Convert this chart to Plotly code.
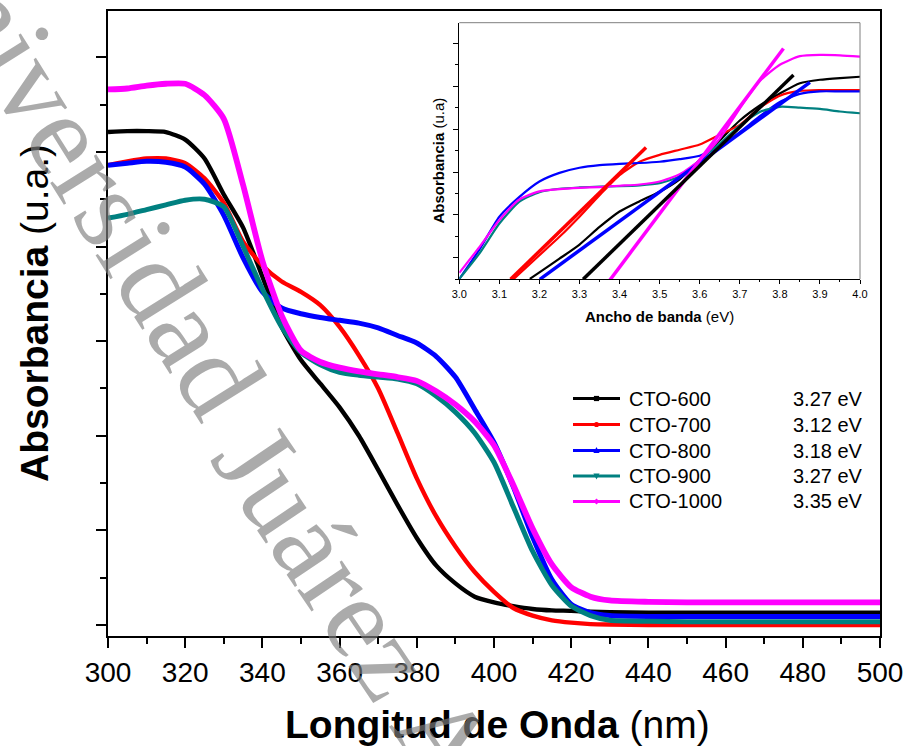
import plotly.graph_objects as go

# ---------------- data ----------------
wavelength = [300, 305, 310, 315, 320, 325, 330, 335, 340, 345, 350, 355, 360, 365, 370,
              375, 380, 385, 390, 395, 400, 405, 410, 415, 420, 425, 430, 440, 450, 460,
              470, 480, 490, 500]
cto600 = [5.21, 5.22, 5.22, 5.21, 5.13, 4.93, 4.55, 4.20, 3.68, 3.15, 2.80, 2.55, 2.30, 2.00,
          1.64, 1.27, 0.92, 0.63, 0.44, 0.30, 0.24, 0.20, 0.17, 0.155, 0.15, 0.14, 0.135,
          0.13, 0.13, 0.13, 0.13, 0.13, 0.13, 0.13]
cto700 = [4.86, 4.90, 4.93, 4.93, 4.88, 4.72, 4.46, 4.05, 3.80, 3.63, 3.52, 3.38, 3.15, 2.85,
          2.50, 2.03, 1.55, 1.15, 0.83, 0.56, 0.35, 0.18, 0.10, 0.05, 0.025, 0.01, 0.005,
          0.0, 0.0, 0.0, 0.0, 0.0, 0.0, 0.0]
cto800 = [4.86, 4.88, 4.90, 4.89, 4.84, 4.66, 4.33, 3.88, 3.52, 3.35, 3.29, 3.25, 3.22, 3.19,
          3.14, 3.06, 2.98, 2.84, 2.62, 2.28, 1.93, 1.46, 0.93, 0.48, 0.22, 0.13, 0.10,
          0.09, 0.09, 0.09, 0.09, 0.09, 0.09, 0.09]
cto900 = [4.30, 4.34, 4.39, 4.44, 4.49, 4.50, 4.42, 4.00, 3.55, 3.15, 2.88, 2.75, 2.67, 2.64,
          2.62, 2.60, 2.55, 2.42, 2.25, 2.03, 1.72, 1.25, 0.78, 0.42, 0.20, 0.10, 0.05,
          0.04, 0.035, 0.035, 0.035, 0.035, 0.035, 0.035]
cto1000 = [5.66, 5.67, 5.70, 5.72, 5.72, 5.60, 5.35, 4.65, 3.85, 3.27, 2.90, 2.78, 2.72, 2.68,
           2.65, 2.62, 2.58, 2.47, 2.33, 2.15, 1.90, 1.48, 1.02, 0.64, 0.40, 0.30, 0.26,
           0.245, 0.24, 0.24, 0.24, 0.24, 0.24, 0.24]

# inset (Tauc plot) curves
ev_full = [3.00, 3.05, 3.10, 3.15, 3.20, 3.25, 3.30, 3.35, 3.40, 3.45, 3.50, 3.55, 3.60,
           3.65, 3.70, 3.75, 3.80, 3.85, 3.90, 3.95, 4.00]
tauc800 = [0.51, 1.19, 1.96, 2.42, 2.78, 2.98, 3.10, 3.16, 3.19, 3.21, 3.24, 3.30, 3.38,
           3.59, 3.93, 4.30, 4.63, 4.82, 4.88, 4.88, 4.88]
tauc900 = [0.51, 1.10, 1.80, 2.31, 2.53, 2.61, 2.64, 2.66, 2.67, 2.69, 2.74, 2.90, 3.28,
           3.66, 4.08, 4.40, 4.52, 4.50, 4.47, 4.41, 4.37]
tauc1000 = [0.65, 1.25, 1.88, 2.36, 2.55, 2.60, 2.63, 2.65, 2.68, 2.71, 2.78, 2.95, 3.28,
            3.78, 4.48, 5.12, 5.50, 5.70, 5.73, 5.72, 5.69]
ev_700 = [3.135, 3.15, 3.20, 3.25, 3.30, 3.35, 3.40, 3.45, 3.50, 3.55, 3.60, 3.65, 3.70,
          3.75, 3.80, 3.85, 3.90, 3.95, 4.00]
tauc700 = [0.50, 0.63, 1.06, 1.49, 1.96, 2.46, 2.93, 3.24, 3.40, 3.52, 3.64, 3.87, 4.10,
           4.50, 4.78, 4.89, 4.91, 4.91, 4.91]
ev_600 = [3.176, 3.20, 3.25, 3.30, 3.35, 3.40, 3.45, 3.50, 3.55, 3.60, 3.65, 3.70, 3.75,
          3.80, 3.85, 3.90, 3.95, 4.00]
tauc600 = [0.51, 0.66, 0.98, 1.31, 1.72, 2.08, 2.32, 2.54, 2.83, 3.28, 3.74, 4.20, 4.55,
           4.83, 5.07, 5.15, 5.19, 5.22]

# fitted tangent lines in the inset
fit700_x, fit700_y = [3.128, 3.466], [0.50, 3.57]
fit800_x, fit800_y = [3.201, 3.875], [0.50, 5.09]
fit1000_x, fit1000_y = [3.374, 3.809], [0.46, 5.88]
fit600_x, fit600_y = [3.309, 3.834], [0.50, 5.26]

series_names = ["CTO-600", "CTO-700", "CTO-800", "CTO-900", "CTO-1000"]
band_gaps = ["3.27 eV", "3.12 eV", "3.18 eV", "3.27 eV", "3.35 eV"]
colors = ["#000000", "#ff0000", "#0000ff", "#008080", "#ff00ff"]
x_ticks = [300, 320, 340, 360, 380, 400, 420, 440, 460, 480, 500]

# ---------------- layout helpers (pixel -> paper) ----------------
L, R, T, B = 108, 880, 11, 636
def fx(p):
    return (p - L) / (R - L)
def fy(p):
    return (B - p) / (B - T)

FONT = "Liberation Sans, Arial, sans-serif"
SERIF = "Liberation Serif, Times New Roman, serif"

fig = go.Figure()

main_series = [cto600, cto700, cto800, cto900, cto1000]
widths = [4.4, 4.4, 5.0, 5.0, 5.8]
for name, ys, col, w in zip(series_names, main_series, colors, widths):
    fig.add_trace(go.Scatter(x=wavelength, y=ys, mode="lines", name=name,
                             line=dict(color=col, width=w, shape="spline", smoothing=0.6),
                             showlegend=False, xaxis="x", yaxis="y"))

inset_curves = [(ev_600, tauc600, colors[0]), (ev_700, tauc700, colors[1]),
                (ev_full, tauc800, colors[2]), (ev_full, tauc900, colors[3]),
                (ev_full, tauc1000, colors[4])]
for xs, ys, col in inset_curves:
    fig.add_trace(go.Scatter(x=xs, y=ys, mode="lines",
                             line=dict(color=col, width=2.2, shape="spline", smoothing=0.6),
                             showlegend=False, xaxis="x2", yaxis="y2"))

fits = [(fit700_x, fit700_y, colors[1]), (fit800_x, fit800_y, colors[2]),
        (fit1000_x, fit1000_y, colors[4]), (fit600_x, fit600_y, colors[0])]
for xs, ys, col in fits:
    fig.add_trace(go.Scatter(x=xs, y=ys, mode="lines", line=dict(color=col, width=3.5),
                             showlegend=False, xaxis="x2", yaxis="y2"))

shapes = []
annotations = []

# inset grey top/right frame
shapes.append(dict(type="line", xref="x2 domain", yref="y2 domain", x0=0, x1=1, y0=1, y1=1,
                   line=dict(color="#7f7f7f", width=1)))
shapes.append(dict(type="line", xref="x2 domain", yref="y2 domain", x0=1, x1=1, y0=0, y1=1,
                   line=dict(color="#7f7f7f", width=1)))

# manual legend
rows = [398.5, 424.5, 450.5, 476.0, 501.5]
symbols = ["square", "circle", "tri-up", "tri-down", "diamond"]
for i, (name, gap, col, sym) in enumerate(zip(series_names, band_gaps, colors, symbols)):
    yy = rows[i]
    shapes.append(dict(type="line", xref="paper", yref="paper", x0=fx(573), x1=fx(620),
                       y0=fy(yy), y1=fy(yy), line=dict(color=col, width=3)))
    cx, s = 596.5, 2.6
    if sym == "square":
        shapes.append(dict(type="rect", xref="paper", yref="paper", x0=fx(cx - s), x1=fx(cx + s),
                           y0=fy(yy + s), y1=fy(yy - s), fillcolor=col, line=dict(width=0)))
    elif sym == "circle":
        shapes.append(dict(type="circle", xref="paper", yref="paper", x0=fx(cx - s), x1=fx(cx + s),
                           y0=fy(yy + s), y1=fy(yy - s), fillcolor=col, line=dict(width=0)))
    else:
        if sym == "tri-up":
            pts = [(cx - s - 0.5, yy + s), (cx + s + 0.5, yy + s), (cx, yy - s - 1)]
        elif sym == "tri-down":
            pts = [(cx - s - 0.5, yy - s), (cx + s + 0.5, yy - s), (cx, yy + s + 1)]
        else:
            pts = [(cx - s - 0.5, yy), (cx, yy - s - 0.5), (cx + s + 0.5, yy), (cx, yy + s + 0.5)]
        path = "M " + " L ".join(f"{fx(a):.5f},{fy(b):.5f}" for a, b in pts) + " Z"
        shapes.append(dict(type="path", xref="paper", yref="paper", path=path,
                           fillcolor=col, line=dict(width=0)))
    annotations.append(dict(xref="paper", yref="paper", x=fx(627), y=fy(yy), text=name,
                            showarrow=False, xanchor="left", yanchor="middle",
                            font=dict(family=FONT, size=20, color="black")))
    annotations.append(dict(xref="paper", yref="paper", x=fx(865), y=fy(yy), text=gap,
                            showarrow=False, xanchor="right", yanchor="middle",
                            font=dict(family=FONT, size=20, color="black")))

# axis titles
annotations.append(dict(xref="paper", yref="paper", x=fx(497), y=fy(724),
                        text="<b>Longitud de Onda</b> (nm)", showarrow=False,
                        xanchor="center", yanchor="middle",
                        font=dict(family=FONT, size=39, color="black")))
annotations.append(dict(xref="paper", yref="paper", x=fx(34), y=fy(313),
                        text="<b>Absorbancia</b> (u.a.)", showarrow=False, textangle=-90,
                        xanchor="center", yanchor="middle",
                        font=dict(family=FONT, size=39, color="black")))
annotations.append(dict(xref="paper", yref="paper", x=fx(659.5), y=fy(316),
                        text="<b>Ancho de banda</b> (eV)", showarrow=False,
                        xanchor="center", yanchor="middle",
                        font=dict(family=FONT, size=15, color="black")))
annotations.append(dict(xref="paper", yref="paper", x=fx(438), y=fy(160.5),
                        text="<b>Absorbancia</b> (u.a)", showarrow=False, textangle=-90,
                        xanchor="center", yanchor="middle",
                        font=dict(family=FONT, size=15, color="black")))

# watermark (two pieces following the arc)
wm_color = "rgba(128,128,128,0.66)"
annotations.append(dict(xref="paper", yref="paper", x=fx(82), y=fy(160),
                        text="Universidad", showarrow=False, textangle=58,
                        xanchor="center", yanchor="middle",
                        font=dict(family=SERIF, size=118, color=wm_color)))
annotations.append(dict(xref="paper", yref="paper", x=fx(470), y=fy(775),
                        text="Juárez Autónoma", showarrow=False, textangle=56,
                        xanchor="center", yanchor="middle",
                        font=dict(family=SERIF, size=117, color=wm_color)))

fig.update_layout(
    template="none",
    width=906, height=746, autosize=False,
    margin=dict(l=L, r=906 - R, t=T, b=746 - B, pad=0, autoexpand=False),
    paper_bgcolor="white", plot_bgcolor="white",
    showlegend=False,
    font=dict(family=FONT, color="black"),
    xaxis=dict(domain=[0, 1], range=[300, 500], tickvals=x_ticks, automargin=False,
               showline=True, linecolor="black", linewidth=2, mirror=True,
               ticks="outside", ticklen=10, tickwidth=2, tickcolor="black",
               minor=dict(ticks="outside", ticklen=6, tickwidth=2, dtick=10, tick0=300,
                          tickcolor="black", showgrid=False),
               tickfont=dict(family=FONT, size=28, color="black"),
               showgrid=False, zeroline=False, anchor="y"),
    yaxis=dict(domain=[0, 1], range=[-0.116, 6.489], tick0=0, dtick=1, automargin=False,
               showticklabels=False,
               showline=True, linecolor="black", linewidth=2, mirror=True,
               ticks="outside", ticklen=10, tickwidth=2, tickcolor="black",
               minor=dict(ticks="outside", ticklen=6, tickwidth=2, dtick=0.5, tick0=0,
                          tickcolor="black", showgrid=False),
               showgrid=False, zeroline=False, anchor="x"),
    xaxis2=dict(domain=[fx(459.3), fx(860)], range=[3.0, 4.0], tick0=3.0, dtick=0.1,
                tickformat=".1f", anchor="y2", automargin=False,
                showline=True, linecolor="black", linewidth=1.3,
                ticks="outside", ticklen=4, tickwidth=1, tickcolor="black",
                minor=dict(ticks="outside", ticklen=2, tickwidth=1, dtick=0.05, tick0=3.0,
                           tickcolor="black", showgrid=False),
                tickfont=dict(family=FONT, size=11, color="black"),
                showgrid=False, zeroline=False),
    yaxis2=dict(domain=[fy(279.3), fy(22.7)], range=[0.5, 6.48], tick0=1, dtick=1,
                showticklabels=False, anchor="x2", automargin=False,
                showline=True, linecolor="black", linewidth=1.3,
                ticks="outside", ticklen=5, tickwidth=1, tickcolor="black",
                minor=dict(ticks="outside", ticklen=3, tickwidth=1, dtick=0.5, tick0=0.5,
                           tickcolor="black", showgrid=False),
                showgrid=False, zeroline=False),
    shapes=shapes,
    annotations=annotations,
)

fig.write_html("out.html",
               config={"responsive": False, "displayModeBar": False},
               post_script="document.body.style.margin='0px';"
                           "document.body.style.overflow='hidden';")
